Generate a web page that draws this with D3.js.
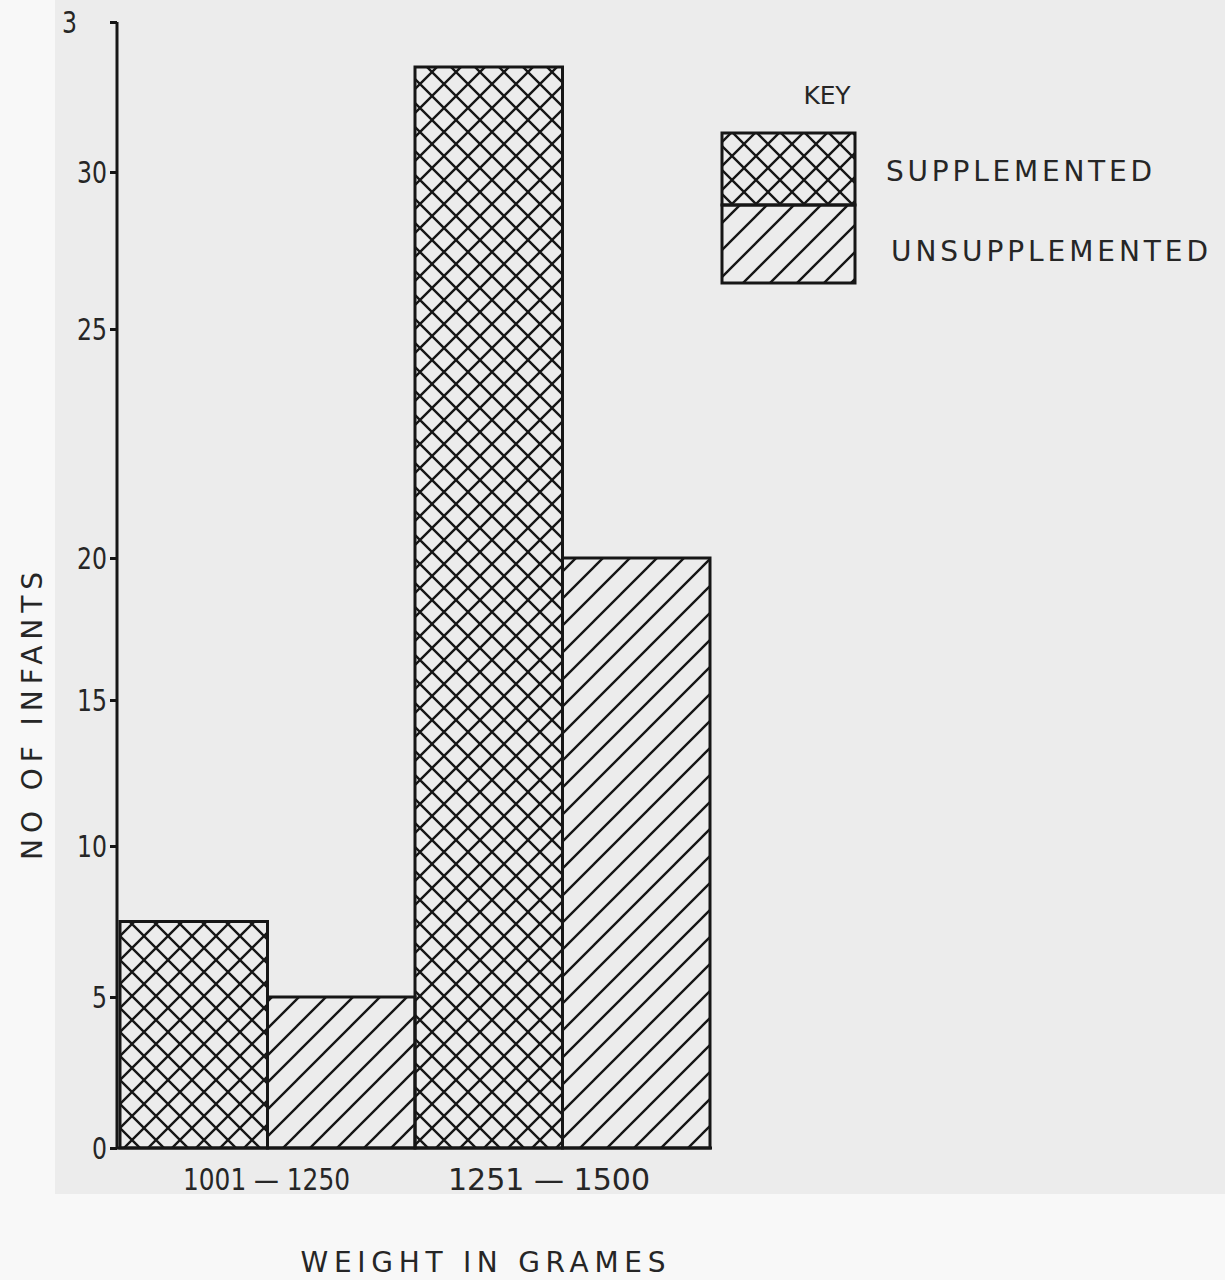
<!DOCTYPE html>
<html>
<head>
<meta charset="utf-8">
<script src="https://cdn.jsdelivr.net/npm/d3@7"></script>
<style>
  html, body { margin: 0; padding: 0; background: #f8f8f8; }
  svg { display: block; }
  text { font-family: "DejaVu Sans", "Liberation Sans", sans-serif; fill: #262626; }
</style>
</head>
<body>
<script>
// ---- data ----
const categories = ["1001 \u2014 1250", "1251 \u2014 1500"];
const seriesNames = ["SUPPLEMENTED", "UNSUPPLEMENTED"];
const supplemented = [7.5, 33.5];
const unsupplemented = [5, 20];
const yTickValues = [0, 5, 10, 15, 20, 25, 30, 35];
const yTickLabels = ["0", "5", "10", "15", "20", "25", "30", "3"];
const yTitle = "NO OF INFANTS";
const xTitle = "WEIGHT IN GRAMES";
const keyTitle = "KEY";

const W = 1225, H = 1280;
const INK = "#161616";
const svg = d3.select("body").append("svg").attr("width", W).attr("height", H);

// scanned page background
svg.append("rect").attr("x", 0).attr("y", 0).attr("width", W).attr("height", H).attr("fill", "#f8f8f8");
svg.append("rect").attr("x", 55).attr("y", 0).attr("width", W - 55).attr("height", 1194).attr("fill", "#ececec");

// patterns
const defs = svg.append("defs");
const cs = 24;
const cross = defs.append("pattern").attr("id", "cross").attr("patternUnits", "userSpaceOnUse")
  .attr("width", cs).attr("height", cs).attr("x", 120).attr("y", 0);
cross.append("path")
  .attr("d", `M-3,3 L3,-3 M0,${cs} L${cs},0 M${cs-3},${cs+3} L${cs+3},${cs-3} M-3,${cs-3} L3,${cs+3} M0,0 L${cs},${cs} M${cs-3},-3 L${cs+3},3`)
  .attr("stroke", INK).attr("stroke-width", 2.4).attr("fill", "none");
const ds = 27;
const diag = defs.append("pattern").attr("id", "diag").attr("patternUnits", "userSpaceOnUse")
  .attr("width", ds).attr("height", ds).attr("x", 0).attr("y", 0);
diag.append("path").attr("d", `M-3,3 L3,-3 M0,${ds} L${ds},0 M${ds-3},${ds+3} L${ds+3},${ds-3}`)
  .attr("stroke", INK).attr("stroke-width", 2.4).attr("fill", "none");
const fills = ["url(#cross)", "url(#diag)"];

// scales (hand-drawn axis has uneven spacing between ticks)
const y = d3.scaleLinear().domain(yTickValues).range([1148, 997, 846, 700, 558, 329, 172, 22]);
const x0 = d3.scaleBand().domain(categories).range([120, 710]).padding(0);
const x1 = d3.scaleBand().domain(seriesNames).range([0, x0.bandwidth()]).padding(0);

const rows = categories.map((c, i) => ({ cat: c, vals: [supplemented[i], unsupplemented[i]] }));

// bars
const g = svg.append("g");
rows.forEach(r => {
  r.vals.forEach((v, j) => {
    g.append("rect")
      .attr("x", x0(r.cat) + x1(seriesNames[j]))
      .attr("y", y(v))
      .attr("width", x1.bandwidth())
      .attr("height", y(0) - y(v))
      .attr("fill", fills[j])
      .attr("stroke", INK)
      .attr("stroke-width", 3);
  });
});

// y axis
const yAxis = d3.axisLeft(y).tickValues(yTickValues).tickSize(7).tickPadding(3)
  .tickFormat((d, i) => yTickLabels[i]);
const ya = svg.append("g").attr("transform", "translate(117,0)").call(yAxis);
ya.select(".domain").attr("stroke", INK).attr("stroke-width", 3).attr("d", "M0,22V1148");
ya.selectAll(".tick line").attr("stroke", INK).attr("stroke-width", 3);
ya.selectAll(".tick text").attr("font-size", 30).attr("fill", "#262626")
  .attr("font-family", "DejaVu Sans, Liberation Sans, sans-serif")
  .attr("dy", "0.36em")
  .attr("textLength", (d, i) => yTickLabels[i].length * 15).attr("lengthAdjust", "spacingAndGlyphs");
ya.selectAll(".tick text").filter(d => d === 35).attr("dx", -30);

// x axis baseline
svg.append("line").attr("x1", 116).attr("x2", 712).attr("y1", y(0)).attr("y2", y(0))
  .attr("stroke", INK).attr("stroke-width", 3);

// category labels
const catLen = [167, 202];
svg.selectAll(".cat").data(categories).enter().append("text")
  .attr("x", (d, i) => [183, 448][i] + catLen[i] / 2)
  .attr("y", 1190).attr("text-anchor", "middle").attr("font-size", 31)
  .attr("textLength", (d, i) => catLen[i]).attr("lengthAdjust", "spacingAndGlyphs")
  .text(d => d);

// titles
svg.append("text").attr("x", 483).attr("y", 1272).attr("text-anchor", "middle")
  .attr("font-size", 28).attr("textLength", 365).attr("lengthAdjust", "spacing").text(xTitle);
svg.append("text").attr("transform", "translate(42,716) rotate(-90)").attr("text-anchor", "middle")
  .attr("font-size", 28).attr("textLength", 288).attr("lengthAdjust", "spacing").text(yTitle);

// legend
const lx = 722, ly = 133, lw = 133, lh1 = 72, lh2 = 78;
svg.append("text").attr("x", 827).attr("y", 104).attr("text-anchor", "middle")
  .attr("font-size", 25).attr("textLength", 47).attr("lengthAdjust", "spacing").text(keyTitle);
svg.append("rect").attr("x", lx).attr("y", ly).attr("width", lw).attr("height", lh1)
  .attr("fill", fills[0]).attr("stroke", INK).attr("stroke-width", 3);
svg.append("rect").attr("x", lx).attr("y", ly + lh1).attr("width", lw).attr("height", lh2)
  .attr("fill", fills[1]).attr("stroke", INK).attr("stroke-width", 3);
svg.append("text").attr("x", 886).attr("y", 181).attr("font-size", 28)
  .attr("textLength", 266).attr("lengthAdjust", "spacing").text(seriesNames[0]);
svg.append("text").attr("x", 891).attr("y", 261).attr("font-size", 28)
  .attr("textLength", 317).attr("lengthAdjust", "spacing").text(seriesNames[1]);
</script>
</body>
</html>
